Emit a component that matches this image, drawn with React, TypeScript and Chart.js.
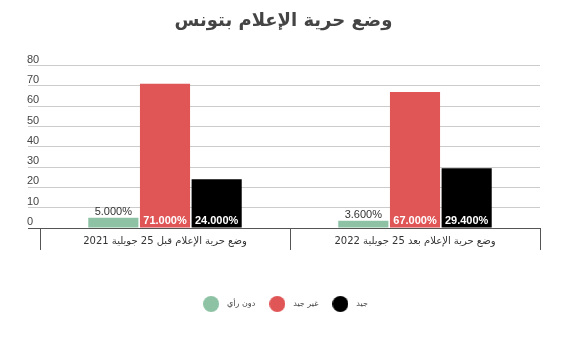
import React, { useEffect, useRef } from "react";
import { Chart, registerables } from "chart.js";

Chart.register(...registerables);

const titleText = "وضع حرية الإعلام بتونس";
const categories = [
  "وضع حرية الإعلام قبل 25 جويلية 2021",
  "وضع حرية الإعلام بعد 25 جويلية 2022",
];
const seriesNames = ["دون رأي", "غير جيد", "جيد"];
const noOpinion = [5.0, 3.6];
const notGood = [71.0, 67.0];
const good = [24.0, 29.4];
const seriesColors = ["#8dc3a4", "#e05556", "#000000"];
const yMin = 0;
const yMax = 80;
const yStep = 10;

function circleImage(color: string, size: number) {
  const c = document.createElement("canvas");
  c.width = size;
  c.height = size;
  const g = c.getContext("2d")!;
  g.fillStyle = color;
  g.beginPath();
  g.arc(size / 2, size / 2, size / 2, 0, Math.PI * 2);
  g.fill();
  return c;
}

const valueLabels = {
  id: "valueLabels",
  afterDatasetsDraw(chart: any) {
    const ctx = chart.ctx;
    chart.data.datasets.forEach((ds: any, i: number) => {
      const meta = chart.getDatasetMeta(i);
      meta.data.forEach((bar: any, j: number) => {
        const v = ds.data[j] as number;
        const text = v.toFixed(3) + "%";
        const { x, y, base } = bar.getProps(["x", "y", "base"], true);
        ctx.save();
        ctx.textAlign = "center";
        ctx.textBaseline = "alphabetic";
        if (base - y > 16) {
          ctx.font = "bold 11px 'Liberation Sans', Arial, sans-serif";
          ctx.fillStyle = "#ffffff";
          ctx.fillText(text, x, base - 4);
        } else {
          ctx.font = "11px 'Liberation Sans', Arial, sans-serif";
          ctx.fillStyle = "#333333";
          ctx.fillText(text, x, y - 3);
        }
        ctx.restore();
      });
    });
  },
};

export default function App() {
  const ref = useRef<HTMLCanvasElement | null>(null);
  useEffect(() => {
    document.body.style.margin = "0";
    const images = seriesColors.map((c) => circleImage(c, 16));
    const chart = new Chart(ref.current!, {
      type: "bar",
      data: {
        labels: categories,
        datasets: [
          { label: seriesNames[0], data: noOpinion, backgroundColor: seriesColors[0] },
          { label: seriesNames[1], data: notGood, backgroundColor: seriesColors[1] },
          { label: seriesNames[2], data: good, backgroundColor: seriesColors[2] },
        ],
      },
      options: {
        animation: false,
        responsive: true,
        maintainAspectRatio: false,
        datasets: { bar: { categoryPercentage: 0.62, barPercentage: 0.97 } },
        layout: { padding: { left: 27, right: 37, top: 0, bottom: 37 } },
        plugins: {
          title: {
            display: true,
            text: titleText,
            color: "#444444",
            font: { size: 18, weight: "bold", family: "'DejaVu Sans', sans-serif" },
            padding: { top: 11, bottom: 33 },
          },
          legend: {
            position: "bottom",
            labels: {
              usePointStyle: true,
              pointStyleWidth: 24,
              color: "#444444",
              font: { size: 8, family: "'DejaVu Sans', sans-serif" },
              padding: 10,
              generateLabels: (chart: any) =>
                chart.data.datasets.map((ds: any, i: number) => ({
                  text: ds.label,
                  fillStyle: seriesColors[i],
                  strokeStyle: seriesColors[i],
                  lineWidth: 0,
                  pointStyle: images[i],
                  datasetIndex: i,
                  hidden: false,
                  fontColor: "#444444",
                })),
            },
          },
          tooltip: { enabled: false },
        },
        scales: {
          x: {
            grid: { offset: true, drawOnChartArea: false, drawTicks: true, tickLength: 22, color: "#555555" },
            border: { display: true, color: "#555555", width: 1 },
            ticks: {
              color: "#333333",
              padding: -15,
              font: { size: 10, family: "'DejaVu Sans', sans-serif" },
              maxRotation: 0,
            },
            afterFit: (s: any) => {
              s.height = 62;
            },
          },
          y: {
            min: yMin,
            max: yMax,
            grid: {
              color: (c: any) => (c.tick && c.tick.value === 0 ? "#555555" : "#cccccc"),
              tickLength: 12,
              drawTicks: true,
            },
            border: { display: false },
            ticks: {
              stepSize: yStep,
              color: "#444444",
              crossAlign: "far",
              labelOffset: -6,
              padding: 0,
              font: { size: 11, family: "'Liberation Sans', Arial, sans-serif" },
            },
            afterFit: (s: any) => {
              s.width = 13;
            },
          },
        },
      },
      plugins: [valueLabels],
    } as any);
    return () => chart.destroy();
  }, []);
  return (
    <div style={{ width: 577, height: 355, position: "relative" }}>
      <canvas ref={ref} />
    </div>
  );
}
